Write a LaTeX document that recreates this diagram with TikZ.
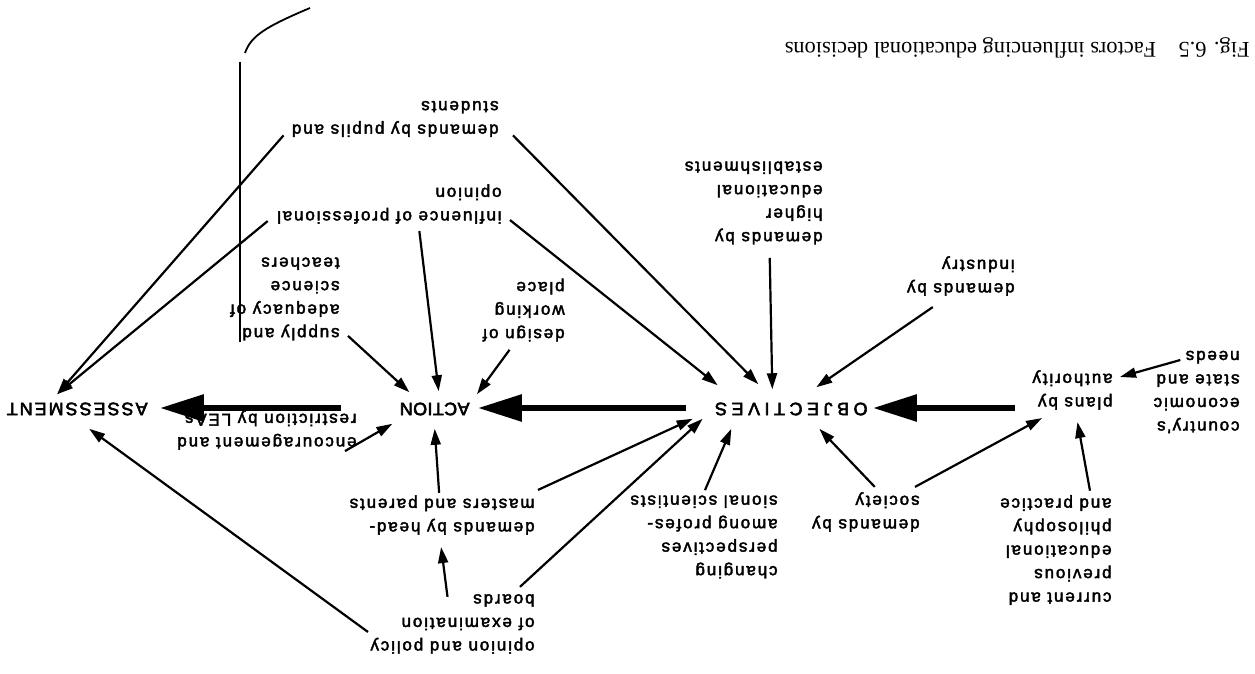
\documentclass[tikz,border=0pt]{standalone}
\usepackage{fontspec}
\setmainfont{Liberation Serif}
\newfontfamily\factorfont[LetterSpace=11,FakeBold=2.5]{Liberation Sans}
\newfontfamily\stagefont[LetterSpace=11,FakeBold=3]{Liberation Sans}
\usetikzlibrary{arrows.meta,calc}

\tikzset{
  factor/.style={anchor=west, inner sep=2pt, align=left, font=\factorfont\fontsize{8.5}{11.75}\selectfont},
  stage/.style={anchor=west, inner sep=2pt, font=\stagefont\fontsize{9}{11}\selectfont},
  figcaption/.style={anchor=west, inner sep=2pt, font=\fontsize{11.2}{13}\selectfont},
  push/.style={line width=1.1pt, -{Triangle[length=8pt,width=5pt]}},
  flow/.style={line width=3pt, -{Triangle[length=22pt,width=13pt]}},
}

\begin{document}
\begin{tikzpicture}[x=0.5pt,y=0.5pt]
\begin{scope}[rotate=180, transform shape]
  \useasboundingbox (0,0) rectangle (1255,674);
  % main stages
  \node[stage] (assessment) at (1103,409) {ASSESSMENT};
  \node[stage] (action) at (781,409) {\addfontfeature{LetterSpace=2}ACTION};
  \node[stage] (objectives) at (383,409) {\addfontfeature{LetterSpace=25}OBJECTIVES};
  % factors
  \node[factor] (pupils) at (752,119) {demands by pupils and\\students};
  \node[factor] (profopinion) at (749,204) {influence of professional\\opinion};
  \node[factor] (workplace) at (686,310) {design of\\working\\place};
  \node[factor] (teachers) at (911,299) {supply and\\adequacy of\\science\\teachers};
  \node[factor] (higher) at (428,203) {demands by\\higher\\educational\\establishments};
  \node[factor] (industry) at (236,276) {demands by\\industry};
  \node[factor] (plans) at (138,390) {plans by\\authority};
  \node[factor] (economy) at (11,392) {country's\\economic\\state and\\needs};
  \node[factor] (philosophy) at (139,550) {current and\\previous\\educational\\philosophy\\and practice};
  \node[factor] (society) at (331,512) {demands by\\society};
  \node[factor] (scientists) at (473,537) {changing\\perspectives\\among profes-\\sional scientists};
  \node[factor] (parents) at (716,515) {demands by head-\\masters and parents};
  \node[factor] (boards) at (716,624) {opinion and policy\\of examination\\boards};
  \node[factor] (leas) at (894,430) {encouragement and\\restriction by LEAs};
  % caption
  \node[figcaption] (caption) at (1,48) {Fig. 6.5\quad Factors influencing educational decisions};
  % main flow
  \draw[flow] ($(plans.east)+(13,18)$) -- ($(objectives.west)+(-1,-1)$);
  \draw[flow] ($(objectives.east)+(25,-1)$) -- ($(action.west)+(-4,-1)$);
  \draw[flow] ($(action.east)+(54,-1)$) -- ($(assessment.west)+(-8,-1)$);
  % into assessment
  \draw[push] ($(pupils.north east)+(4,-6)$) -- ($(assessment.south)+(20,-4)$);
  \draw[push] ($(profopinion.north east)+(5,-7)$) -- ($(assessment.south)+(20,-4)$);
  \draw[push] ($(boards.east)+(-2,8)$) -- ($(assessment.north)+(-12,9)$);
  % into action
  \draw[push] ($(profopinion.north)+(-30,3)$) -- ($(action.south)+(-4,-7)$);
  \draw[push] ($(teachers.north west)+(-4,-9)$) -- ($(action.south east)+(-14,-6)$);
  \draw[push] ($(workplace.north)+(14,4)$) -- ($(action.south west)+(-3,-4)$);
  \draw[push] ($(leas.north west)+(16,-3)$) -- ($(action.north east)+(3,4)$);
  \draw[push] ($(parents.south)+(3,2)$) -- ($(action.north)+(0,9)$);
  \draw[push] ($(boards.south)+(5,7)$) -- ($(parents.north)+(1,8)$);
  % into objectives
  \draw[push] ($(pupils.north west)+(-10,-6)$) -- ($(objectives.south)+(33,-14)$);
  \draw[push] ($(profopinion.north west)+(-4,-8)$) -- ($(objectives.south east)+(-7,-13)$);
  \draw[push] ($(higher.north)+(-16,9)$) -- ($(objectives.south)+(19,-9)$);
  \draw[push] ($(industry.north)+(28,7)$) -- ($(objectives.south)+(-25,-11)$);
  \draw[push] ($(boards.south west)+(19,-3)$) -- ($(objectives.north east)+(8,-1)$);
  \draw[push] ($(parents.south west)+(1,-1)$) -- ($(objectives.north east)+(18,-1)$);
  \draw[push] ($(scientists.south)+(-1,-1)$) -- ($(objectives.north)+(60,9)$);
  \draw[push] ($(society.south)+(-9,-1)$) -- ($(objectives.north)+(-28,9)$);
  % into plans
  \draw[push] ($(society.south west)+(9,-1)$) -- ($(plans.north east)+(-14,4)$);
  \draw[push] ($(philosophy.south west)+(26,0)$) -- ($(plans.north)+(-5,8)$);
  \draw[push] ($(economy.east)+(-31,-32)$) -- ($(plans.west)+(-3,-13)$);
  % margin stroke
  \draw[line width=0.9pt] (1015,62) -- (1015,342);
  \draw[line width=0.9pt] (1010,53) .. controls (1004,36) and (990,27) .. (945,8);
\end{scope}
\end{tikzpicture}
\end{document}
